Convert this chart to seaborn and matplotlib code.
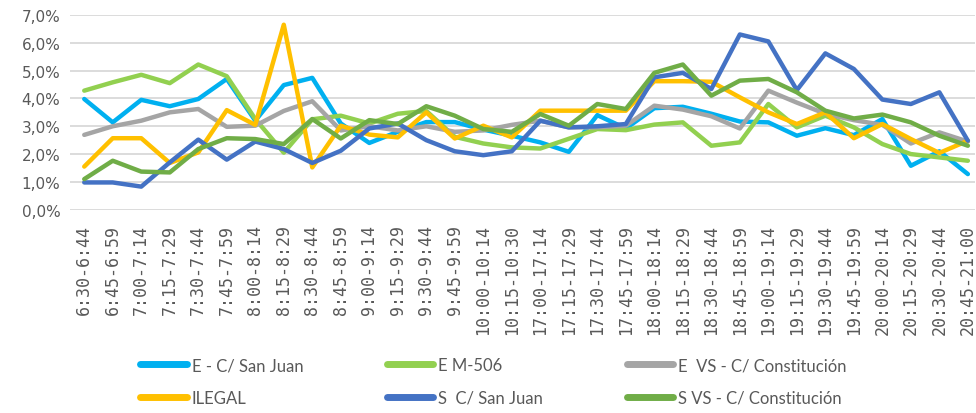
import numpy as np
import pandas as pd
import seaborn as sns
import matplotlib.pyplot as plt
from matplotlib.lines import Line2D
from matplotlib.ticker import FuncFormatter

franjas = ["6:30-6:44", "6:45-6:59", "7:00-7:14", "7:15-7:29", "7:30-7:44", "7:45-7:59",
           "8:00-8:14", "8:15-8:29", "8:30-8:44", "8:45-8:59", "9:00-9:14", "9:15-9:29",
           "9:30-9:44", "9:45-9:59", "10:00-10:14", "10:15-10:30", "17:00-17:14", "17:15-17:29",
           "17:30-17:44", "17:45-17:59", "18:00-18:14", "18:15-18:29", "18:30-18:44", "18:45-18:59",
           "19:00-19:14", "19:15-19:29", "19:30-19:44", "19:45-19:59", "20:00-20:14", "20:15-20:29",
           "20:30-20:44", "20:45-21:00"]

e_san_juan = [3.98, 3.14, 3.95, 3.72, 3.98, 4.70, 3.20, 4.48, 4.74, 3.10, 2.40, 2.80, 3.15, 3.15,
              2.88, 2.66, 2.42, 2.08, 3.40, 2.92, 3.65, 3.70, 3.45, 3.17, 3.14, 2.66, 2.93, 2.68,
              3.26, 1.58, 2.10, 1.28]
e_m506 = [4.28, 4.58, 4.85, 4.55, 5.22, 4.80, 3.26, 2.05, 3.25, 3.38, 3.10, 3.45, 3.55, 2.62,
          2.38, 2.24, 2.20, 2.55, 2.90, 2.86, 3.06, 3.14, 2.30, 2.42, 3.80, 2.96, 3.38, 2.96,
          2.36, 2.00, 1.88, 1.76]
e_vs_constitucion = [2.69, 3.00, 3.20, 3.50, 3.62, 2.98, 3.02, 3.55, 3.90, 2.85, 3.00, 2.85,
                     3.00, 2.80, 2.85, 3.05, 3.20, 2.96, 2.96, 3.02, 3.74, 3.60, 3.36, 2.92,
                     4.28, 3.85, 3.45, 3.22, 3.05, 2.38, 2.78, 2.45]
ilegal = [1.55, 2.57, 2.57, 1.68, 2.06, 3.58, 3.05, 6.65, 1.52, 3.02, 2.70, 2.60, 3.50, 2.56,
          3.02, 2.60, 3.56, 3.56, 3.56, 3.56, 4.62, 4.62, 4.60, 4.04, 3.50, 3.08, 3.50, 2.57,
          3.08, 2.54, 2.04, 2.48]
s_san_juan = [0.98, 0.98, 0.83, 1.70, 2.52, 1.80, 2.45, 2.18, 1.68, 2.12, 2.92, 3.10, 2.50, 2.10,
              1.96, 2.10, 3.20, 2.96, 3.00, 3.08, 4.76, 4.92, 4.34, 6.30, 6.05, 4.30, 5.62, 5.06,
              3.96, 3.80, 4.22, 2.48]
s_vs_constitucion = [1.10, 1.76, 1.37, 1.34, 2.18, 2.57, 2.54, 2.36, 3.26, 2.56, 3.22, 3.08,
                     3.72, 3.38, 2.90, 2.80, 3.44, 3.02, 3.80, 3.62, 4.92, 5.22, 4.10, 4.64,
                     4.70, 4.22, 3.56, 3.28, 3.42, 3.14, 2.66, 2.30]

series = ["E - C/ San Juan", "E M-506", "E  VS - C/ Constitución",
          "ILEGAL", "S  C/ San Juan", "S VS - C/ Constitución"]
valores = [e_san_juan, e_m506, e_vs_constitucion, ilegal, s_san_juan, s_vs_constitucion]
colores = ["#00B0F0", "#92D050", "#A5A5A5", "#FFC000", "#4472C4", "#70AD47"]

df = pd.DataFrame({
    "pos": np.tile(np.arange(len(franjas)), len(series)),
    "serie": np.repeat(series, len(franjas)),
    "pct": np.concatenate(valores),
})

sns.set_style("white")
plt.rcParams["font.family"] = ["DejaVu Sans"]
gris = "#595959"

fig = plt.figure(figsize=(9.76, 4.14), dpi=100)
ax = fig.add_axes([70 / 976, (414 - 210.7) / 414, 905 / 976, (210.7 - 16) / 414])

sns.lineplot(data=df, x="pos", y="pct", hue="serie", hue_order=series, palette=colores,
             linewidth=3.2, sort=False, legend=False, ax=ax,
             solid_joinstyle="round", solid_capstyle="round")

ax.set_xlim(-0.5, 31.25)
ax.set_ylim(0, 7)
ax.set_yticks(np.arange(0, 8, 1))
ax.yaxis.set_major_formatter(FuncFormatter(lambda v, p: f"{v:.1f}%".replace(".", ",")))
ax.set_xticks(np.arange(len(franjas)))
ax.set_xticklabels(franjas, rotation=90, family="DejaVu Sans Mono", fontsize=12, color=gris)
ax.tick_params(axis="x", length=0, pad=10)
ax.tick_params(axis="y", length=0, pad=7, labelsize=11, labelcolor=gris)
ax.set_xlabel("")
ax.set_ylabel("")
ax.grid(axis="y", color="#D9D9D9", linewidth=1.3)
ax.grid(axis="x", visible=False)
ax.set_axisbelow(True)
for s in ax.spines.values():
    s.set_visible(False)

# legend: 3 columns, filled row by row like the original
handles = [Line2D([], [], color=c, linewidth=5, solid_capstyle="round") for c in colores]
orden = [0, 3, 1, 4, 2, 5]
fig.legend([handles[i] for i in orden], [series[i] for i in orden], ncol=3,
           loc="upper left", bbox_to_anchor=(140 / 976, 0.135), frameon=False,
           prop={"family": "Lato", "size": 12}, labelcolor=gris,
           handlelength=2.8, handletextpad=0.3, columnspacing=5.0,
           labelspacing=1.0, borderpad=0, borderaxespad=0)

fig.savefig("out.png", dpi=100)
